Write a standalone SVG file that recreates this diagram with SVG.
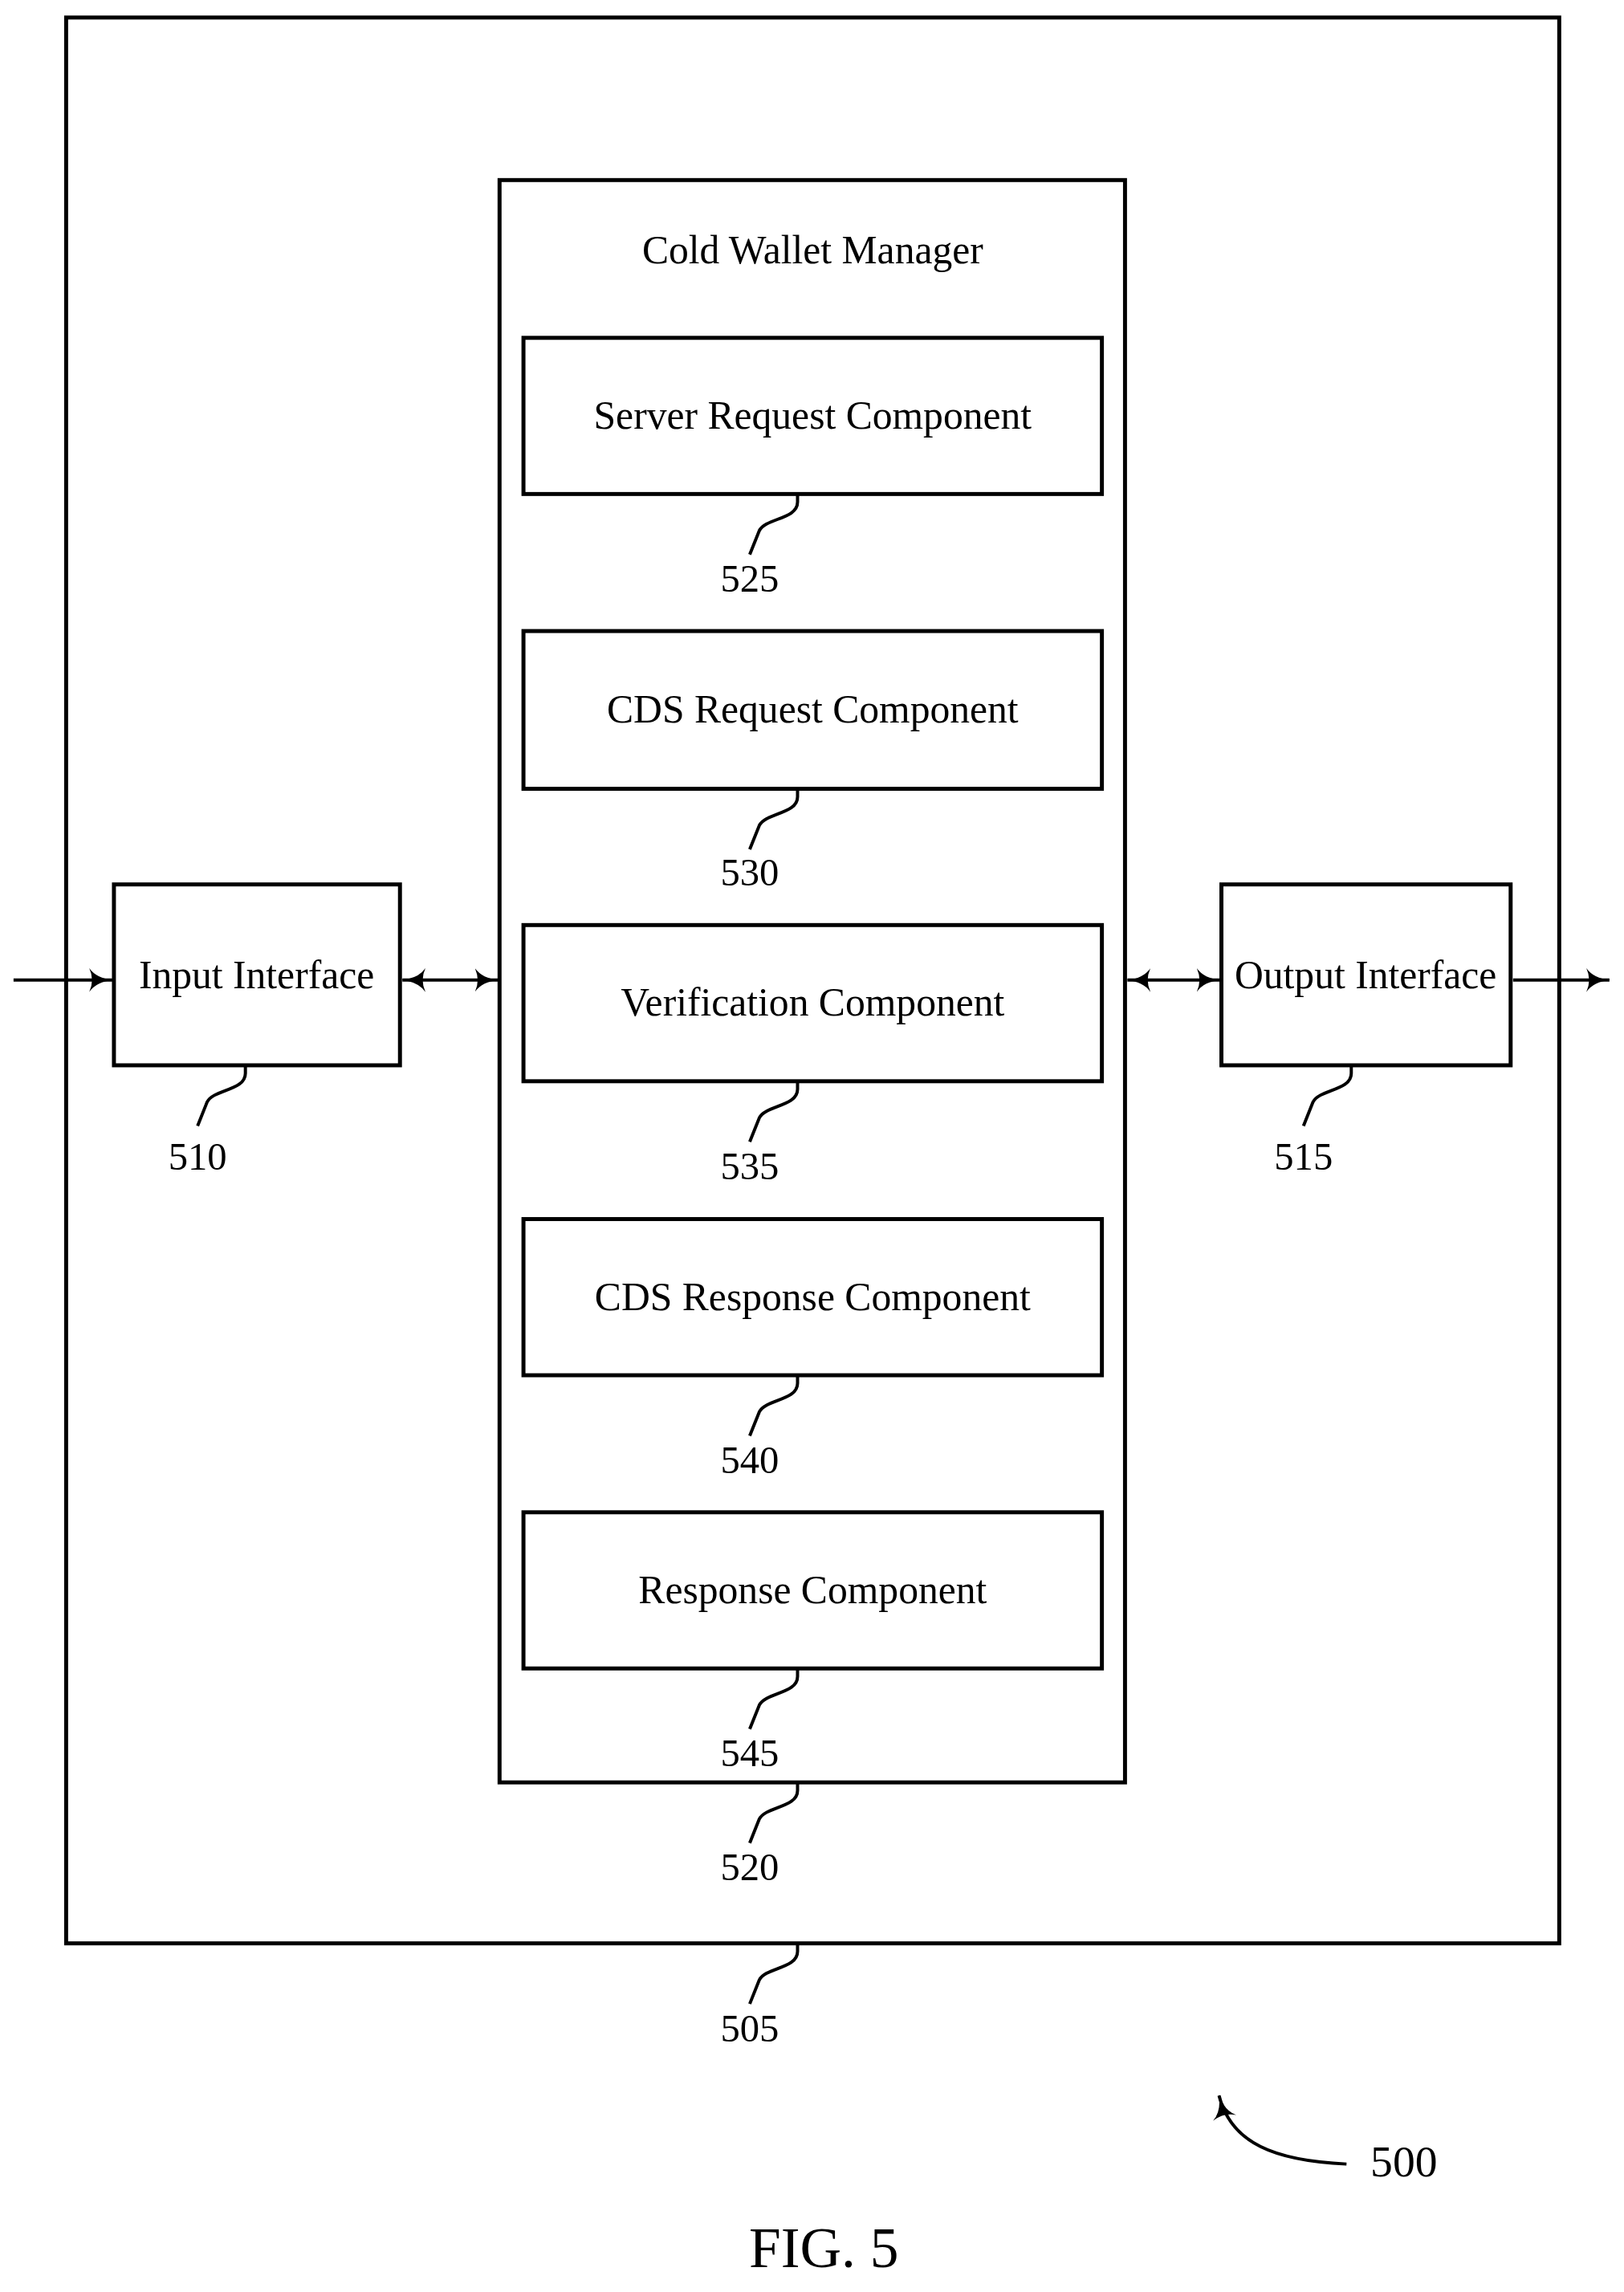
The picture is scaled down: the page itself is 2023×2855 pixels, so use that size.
<svg xmlns="http://www.w3.org/2000/svg" width="2023" height="2855" viewBox="0 0 2023 2855">
<style>
.b{fill:#fff;stroke:#000;stroke-width:5}
.l{fill:none;stroke:#000;stroke-width:4}
.t{font-family:"Liberation Serif",serif;font-size:50px;text-anchor:middle;fill:#000}
.n{font-family:"Liberation Serif",serif;font-size:49px;text-anchor:middle;fill:#000}
</style>
<defs>
<marker id="a" viewBox="0 0 30 30" refX="29" refY="15" markerWidth="30" markerHeight="30" markerUnits="userSpaceOnUse" orient="auto-start-reverse">
<path d="M0,0 Q9,13 30,15 Q9,17 0,30 Q7,15 0,0Z" fill="#000"/>
</marker>
</defs>
<g transform="scale(0.9925)">
<g id="n505"><rect class="b" x="83" y="22" width="1874" height="2417"/></g>
<g id="n520"><rect class="b" x="627" y="226" width="785" height="2011"/><text class="t" x="1020" y="330">Cold Wallet Manager</text></g>
<g id="n525"><rect class="b" x="657" y="424" width="726" height="196"/><text class="t" x="1020" y="538">Server Request Component</text></g>
<g id="n530"><rect class="b" x="657" y="792" width="726" height="198"/><text class="t" x="1020" y="907">CDS Request Component</text></g>
<g id="n535"><rect class="b" x="657" y="1161" width="726" height="196"/><text class="t" x="1020" y="1275">Verification Component</text></g>
<g id="n540"><rect class="b" x="657" y="1530" width="726" height="196"/><text class="t" x="1020" y="1644">CDS Response Component</text></g>
<g id="n545"><rect class="b" x="657" y="1898" width="726" height="196"/><text class="t" x="1020" y="2012">Response Component</text></g>
<g id="n510"><rect class="b" x="143" y="1110" width="359" height="227"/><text class="t" x="322" y="1240">Input Interface</text></g>
<g id="n515"><rect class="b" x="1533" y="1110" width="363" height="227"/><text class="t" x="1714" y="1240">Output Interface</text></g>
<g id="connectors">
<line class="l" x1="17" y1="1230" x2="141" y2="1230" marker-end="url(#a)"/>
<line class="l" x1="505" y1="1230" x2="625" y2="1230" marker-start="url(#a)" marker-end="url(#a)"/>
<line class="l" x1="1415" y1="1230" x2="1531" y2="1230" marker-start="url(#a)" marker-end="url(#a)"/>
<line class="l" x1="1899" y1="1230" x2="2020" y2="1230" marker-end="url(#a)"/>
<path class="l" d="M1690,2716 C1600,2712 1545,2690 1530,2630" marker-end="url(#a)"/>
<path class="l" d="M1001,620 v10 c0,22 -40,20 -48,36 l-12,30"/>
<path class="l" d="M1001,990 v10 c0,22 -40,20 -48,36 l-12,30"/>
<path class="l" d="M1001,1357 v10 c0,22 -40,20 -48,36 l-12,30"/>
<path class="l" d="M1001,1726 v10 c0,22 -40,20 -48,36 l-12,30"/>
<path class="l" d="M1001,2094 v10 c0,22 -40,20 -48,36 l-12,30"/>
<path class="l" d="M1001,2237 v10 c0,22 -40,20 -48,36 l-12,30"/>
<path class="l" d="M1001,2439 v10 c0,22 -40,20 -48,36 l-12,30"/>
<path class="l" d="M308,1337 v10 c0,22 -40,20 -48,36 l-12,30"/>
<path class="l" d="M1696,1337 v10 c0,22 -40,20 -48,36 l-12,30"/>
</g>
<g id="labels">
<text class="n" x="941" y="743">525</text>
<text class="n" x="941" y="1111">530</text>
<text class="n" x="941" y="1480">535</text>
<text class="n" x="941" y="1849">540</text>
<text class="n" x="941" y="2217">545</text>
<text class="n" x="941" y="2360">520</text>
<text class="n" x="941" y="2562">505</text>
<text class="n" x="248" y="1468">510</text>
<text class="n" x="1636" y="1468">515</text>
<text class="n" x="1762" y="2731" style="font-size:56px">500</text>
<text class="n" x="1034" y="2845" style="font-size:72px">FIG. 5</text>
</g>
</g>
</svg>
